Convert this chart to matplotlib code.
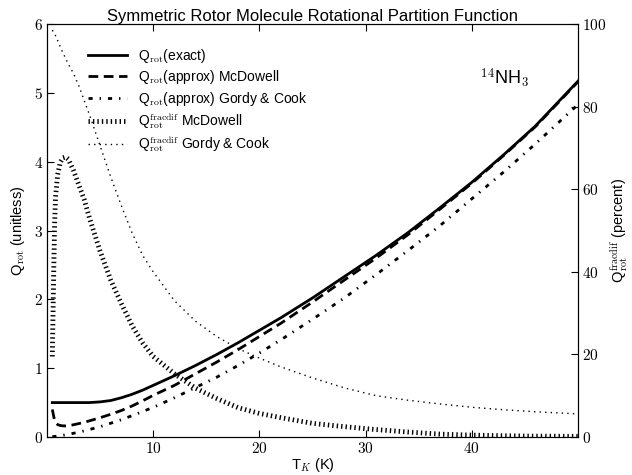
import numpy as np
import matplotlib
matplotlib.use('Agg')
import matplotlib.pyplot as plt
from matplotlib.ticker import FuncFormatter

plt.rcParams['font.family'] = ['Liberation Sans', 'DejaVu Sans']
plt.rcParams['mathtext.fontset'] = 'cm'
plt.rcParams['lines.scale_dashes'] = False

# temperature (K)
T = [0.5, 0.6, 0.7, 0.8, 1.0, 1.25, 1.5, 1.75, 2.0, 2.5, 3.0, 3.5, 4.0,
     5, 6, 7, 8, 9, 10, 12, 14, 16, 18, 20, 22, 25, 28, 31, 34, 37, 40, 43, 46, 50]

# partition functions (unitless)
q_exact = [0.50, 0.50, 0.50, 0.50, 0.50, 0.50, 0.50, 0.50, 0.50, 0.50, 0.50, 0.50, 0.50,
           0.51, 0.53, 0.57, 0.62, 0.68, 0.75, 0.89, 1.04, 1.20, 1.37, 1.55, 1.73, 2.02,
           2.33, 2.64, 2.97, 3.33, 3.70, 4.10, 4.52, 5.17]
q_mcdowell = [0.40, 0.325, 0.25, 0.21, 0.18, 0.167, 0.162, 0.161, 0.163, 0.178, 0.195, 0.213, 0.235,
              0.28, 0.33, 0.385, 0.45, 0.525, 0.605, 0.75, 0.92, 1.09, 1.27, 1.46, 1.65, 1.96,
              2.28, 2.60, 2.94, 3.31, 3.685, 4.09, 4.51, 5.16]
q_gordy = [0.005, 0.006, 0.008, 0.01, 0.014, 0.019, 0.025, 0.032, 0.039, 0.054, 0.071, 0.089, 0.109,
           0.15, 0.20, 0.25, 0.31, 0.37, 0.43, 0.57, 0.72, 0.87, 1.04, 1.22, 1.41, 1.71,
           2.02, 2.36, 2.71, 3.07, 3.46, 3.85, 4.26, 4.83]

# fractional differences (percent)
pct_mcdowell = [19.5, 35, 50, 58, 63.5, 66.5, 67.6, 67.8, 67.3, 64.5, 61, 57.5, 53,
                45, 38, 32.3, 27, 22.8, 19.5, 15.3, 11.8, 9.3, 7.1, 5.7, 4.7, 3.3,
                2.5, 1.8, 1.2, 0.7, 0.45, 0.3, 0.2, 0.15]
pct_gordy = [98.5, 98.1, 97.7, 97.2, 96, 94.5, 93, 91.7, 90.3, 88, 85, 81.5, 78,
             70.5, 63, 56, 49.5, 44, 40, 33, 28, 24.3, 21.4, 19.1, 17, 14.3,
             11.9, 10, 8.9, 8, 7.2, 6.6, 6.1, 5.6]

fig = plt.figure(figsize=(6.32, 4.75), dpi=100)
ax = fig.add_axes([47/632, 38/475, 531/632, 413/475])
ax2 = ax.twinx()

l1, = ax.plot(T, q_exact, color='k', lw=2, ls='-')
l2, = ax.plot(T, q_mcdowell, color='k', lw=2, dashes=(7, 4))
l3, = ax.plot(T, q_gordy, color='k', lw=2, dashes=(3, 5, 1, 5))
l4, = ax2.plot(T, pct_mcdowell, color='k', lw=3.5, dashes=(1, 2.2))
l5, = ax2.plot(T, pct_gordy, color='k', lw=1, dashes=(1, 3))

ax.set_xlim(0, 50)
ax.set_ylim(0, 6)
ax2.set_ylim(0, 100)
ax.set_xticks([10, 20, 30, 40])
ax.set_yticks(range(7))
ax2.set_yticks(range(0, 101, 20))

fmt = FuncFormatter(lambda v, p: r'$%g$' % v)
ax.xaxis.set_major_formatter(fmt)
ax.yaxis.set_major_formatter(fmt)
ax2.yaxis.set_major_formatter(fmt)
ax.tick_params(direction='in', length=5, top=True, labelsize=11, pad=3)
ax2.tick_params(direction='in', length=5, labelsize=11, pad=3)

ax.set_xlabel(r'T$_K$ (K)', fontsize=10.5, labelpad=0)
ax.set_ylabel(r'Q$_{\rm rot}$ (unitless)', fontsize=10.5, labelpad=5)
ax2.set_ylabel(r'Q$^{\rm fracdif}_{\rm rot}$ (percent)', fontsize=10.5, labelpad=1)
ax.set_title('Symmetric Rotor Molecule Rotational Partition Function', fontsize=12, pad=2)

ax2.legend([l1, l2, l3, l4, l5],
           [r'Q$_{\rm rot}$(exact)', r'Q$_{\rm rot}$(approx) McDowell',
            r'Q$_{\rm rot}$(approx) Gordy & Cook', r'Q$^{\rm fracdif}_{\rm rot}$ McDowell',
            r'Q$^{\rm fracdif}_{\rm rot}$ Gordy & Cook'],
           loc='upper left', bbox_to_anchor=(0.054, 0.975), frameon=False,
           fontsize=10, handlelength=2.8, labelspacing=0.25)

ax.text(0.815, 0.855, r'$^{14}$NH$_3$', transform=ax.transAxes, fontsize=13)

fig.savefig('out.png', dpi=100)
